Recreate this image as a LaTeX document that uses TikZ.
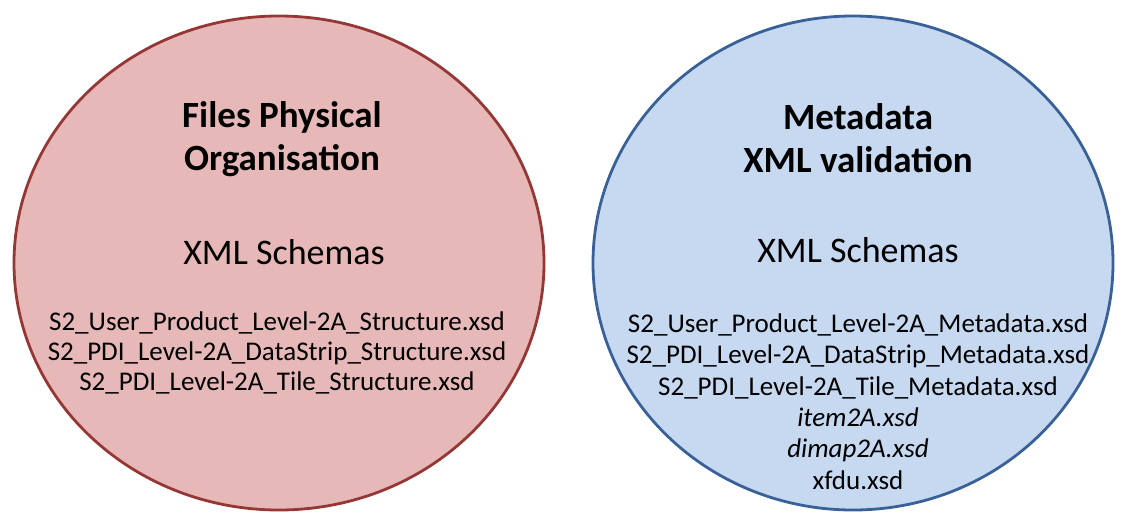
\documentclass[tikz,border=0pt]{standalone}
\usepackage{fontspec}
\setmainfont{Carlito}
\definecolor{redfill}{HTML}{E6B8B7}
\definecolor{redline}{HTML}{953735}
\definecolor{bluefill}{HTML}{C6D9F1}
\definecolor{blueline}{HTML}{3A6197}
\begin{document}
\begin{tikzpicture}[x=1pt,y=-1pt,
  title/.style={font=\fontsize{37}{43}\selectfont\bfseries, align=center, text=black, inner sep=0},
  schema/.style={font=\fontsize{36}{40}\selectfont, text=black, inner sep=0},
  files/.style={font=\fontsize{27}{30}\selectfont, align=center, text=black, inner sep=0},
  filesb/.style={font=\fontsize{27}{31.4}\selectfont, align=center, text=black, inner sep=0}]
\useasboundingbox (0,0) rectangle (1123,512);
\draw[redline, fill=redfill, line width=2.8pt] (279,263) ellipse [x radius=265, y radius=247];
\draw[blueline, fill=bluefill, line width=2.8pt] (853,263) ellipse [x radius=260, y radius=247];
\node[title] (lt) at (282,139) {Files Physical\\Organisation};
\node[schema] (ls) at (284,252) {XML Schemas};
\node[files] (lf) at (277,353) {S2\_User\_Product\_Level-2A\_Structure.xsd\\S2\_PDI\_Level-2A\_DataStrip\_Structure.xsd\\S2\_PDI\_Level-2A\_Tile\_Structure.xsd};
\node[title] (rt) at (858,138) {Metadata\\XML validation};
\node[schema] (rs) at (858,250) {XML Schemas};
\node[filesb] (rf) at (858,401.5) {S2\_User\_Product\_Level-2A\_Metadata.xsd\\S2\_PDI\_Level-2A\_DataStrip\_Metadata.xsd\\S2\_PDI\_Level-2A\_Tile\_Metadata.xsd\\\textit{item2A.xsd}\\\textit{dimap2A.xsd}\\xfdu.xsd};
\end{tikzpicture}
\end{document}
